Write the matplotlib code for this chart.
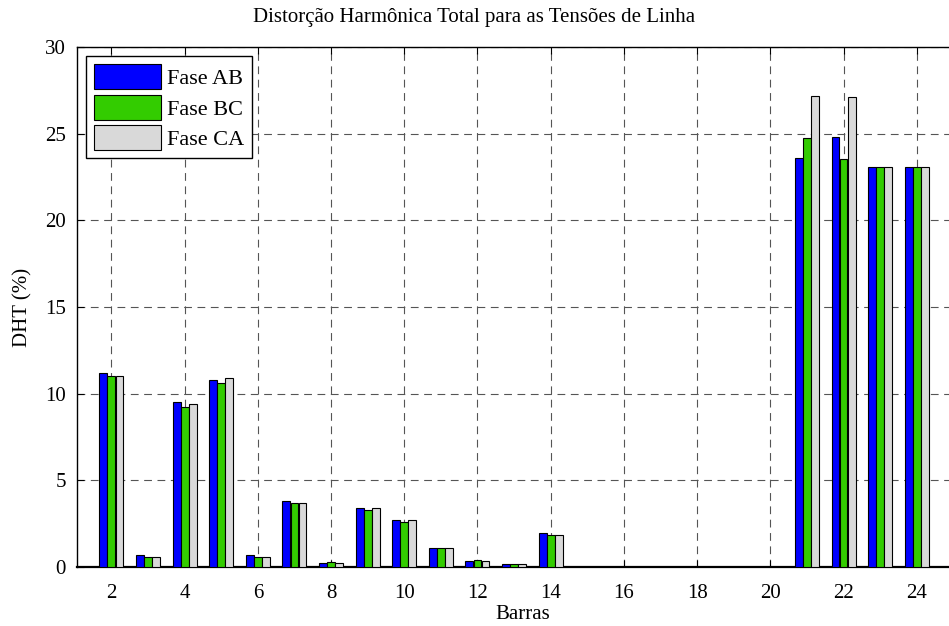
import matplotlib.pyplot as plt
import numpy as np

# DHT por barra, fases AB / BC / CA
barras = np.arange(2, 25)
fase_ab = [11.2, 0.67, 9.50, 10.8, 0.67, 3.81, 0.25, 3.39, 2.70, 1.09, 0.33, 0.17, 1.94,
           0.01, 0.01, 0.01, 0.01, 0.01, 0.01, 23.62, 24.81, 23.05, 23.05]
fase_bc = [11.0, 0.58, 9.24, 10.6, 0.58, 3.70, 0.27, 3.30, 2.60, 1.09, 0.38, 0.17, 1.86,
           0.01, 0.01, 0.01, 0.01, 0.01, 0.01, 24.73, 23.54, 23.05, 23.05]
fase_ca = [11.0, 0.58, 9.41, 10.9, 0.58, 3.70, 0.25, 3.38, 2.70, 1.09, 0.33, 0.17, 1.86,
           0.01, 0.01, 0.01, 0.01, 0.01, 0.01, 27.2, 27.1, 23.05, 23.05]
labels = ['Fase AB', 'Fase BC', 'Fase CA']
cores = ['#0000ff', '#33cc00', '#d9d9d9']

plt.rcParams['font.family'] = ['Liberation Serif', 'DejaVu Serif']
plt.rcParams['font.size'] = 15

fig = plt.figure(figsize=(9.49, 6.26), dpi=100)
axw = 1 - 77/949 + 0.02
ax = fig.add_axes([77/949, 1 - 567/626, axw, 520/626])

w = 0.215
for k, (vals, lab, c) in enumerate(zip([fase_ab, fase_bc, fase_ca], labels, cores)):
    ax.bar(barras + (k - 1) * 0.22, vals, width=w, color=c, edgecolor='black',
           linewidth=0.8, label=lab, zorder=3)

ax.set_xlim(1.06, 25.4)
ax.set_ylim(0, 30)
ax.set_xticks(np.arange(2, 25, 2))
ax.set_yticks(np.arange(0, 31, 5))
ax.tick_params(direction='in', length=5, width=0.8, top=True, right=True)
ax.tick_params(axis='x', pad=12)
ax.tick_params(axis='y', pad=8)
ax.grid(True, linestyle=(0, (7, 5)), color='#555555', linewidth=0.8, zorder=0)
for s in ax.spines.values():
    s.set_linewidth(1.0)
ax.spines['bottom'].set_linewidth(1.6)

ax.set_xlabel('Barras', labelpad=2)
ax.set_ylabel('DHT (%)', labelpad=9)
ax.set_title('Distorção Harmônica Total para as Tensões de Linha', fontsize=15, pad=18,
             x=(474 - 77) / (949 * axw))

leg = ax.legend(loc='upper left', bbox_to_anchor=(0.0105, 0.982), fancybox=False,
                edgecolor='black', framealpha=1, handlelength=3.0, handleheight=1.35,
                handletextpad=0.3, labelspacing=0.25, borderpad=0.35, borderaxespad=0,
                fontsize=16)
leg.get_frame().set_linewidth(1.0)

fig.savefig('out.png', dpi=100)
